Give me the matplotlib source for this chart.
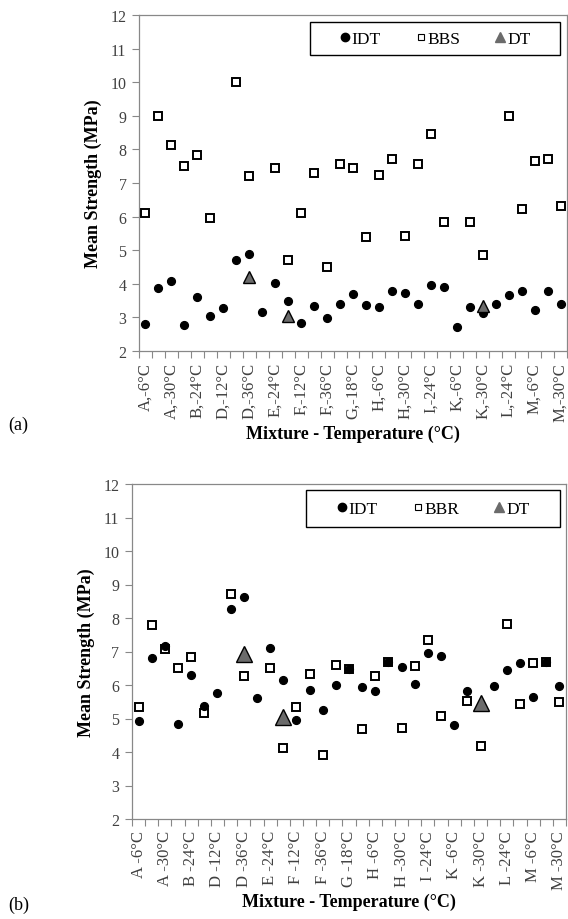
import numpy as np
import matplotlib
matplotlib.use('Agg')
import matplotlib.pyplot as plt
from matplotlib.lines import Line2D
from matplotlib.patches import Rectangle

plt.rcParams['font.family'] = ['Liberation Serif', 'DejaVu Serif']

# categorias (33 combinações mistura-temperatura, rotulada uma sim outra não)
mist = ['A', 'A', 'A', 'B', 'B', 'B', 'D', 'D', 'D', 'E', 'E', 'E', 'F', 'F', 'F',
        'G', 'G', 'G', 'H', 'H', 'H', 'I', 'I', 'I', 'K', 'K', 'K', 'L', 'L', 'L',
        'M', 'M', 'M']
temp = [-6, -18, -30, -12, -24, -36, -12, -24, -36, -12, -24, -36, -12, -24, -36,
        -6, -18, -30, -6, -18, -30, -12, -24, -36, -6, -18, -30, -12, -24, -36,
        -6, -18, -30]

nan = np.nan
# (a)
idt_a = [2.79, 3.87, 4.08, 2.76, 3.60, 3.05, 3.27, 4.70, 4.89, 3.17, 4.02, 3.50, 2.82,
         3.33, 2.98, 3.41, 3.70, 3.37, 3.31, 3.79, 3.74, 3.41, 3.95, 3.89, 2.72, 3.31,
         3.12, 3.41, 3.68, 3.79, 3.21, 3.79, 3.41]
bbs_a = [6.12, 9.00, 8.14, 7.50, 7.84, 5.96, nan, 10.0, 7.20, nan, 7.45, 4.72, 6.12,
         7.29, 4.49, 7.58, 7.45, 5.40, 7.23, 7.71, 5.43, 7.58, 8.47, 5.83, nan, 5.85,
         4.85, nan, 8.98, 6.22, 7.65, 7.71, 6.32]
dt_a_pos = [8, 11, 26]
dt_a = [4.21, 3.04, 3.34]

# (b)
idt_b = [4.93, 6.81, 7.15, 4.84, 6.31, 5.36, 5.75, 8.28, 8.62, 5.62, 7.11, 6.14, 4.97,
         5.86, 5.26, 6.01, 6.47, 5.95, 5.82, 6.70, 6.53, 6.02, 6.97, 6.87, 4.80, 5.82,
         nan, 5.98, 6.44, 6.67, 5.65, 6.70, 5.98]
bbr_b = [5.33, 7.80, 7.07, 6.51, 6.84, 5.16, nan, 8.71, 6.28, nan, 6.51, 4.12, 5.33,
         6.34, 3.92, 6.60, 6.47, 4.70, 6.28, 6.70, 4.73, 6.57, 7.33, 5.07, nan, 5.52,
         4.18, nan, 7.82, 5.42, 6.67, 6.70, 5.49]
dt_b_pos = [8, 11, 26]
dt_b = [6.93, 5.04, 5.46]

W, H = 568, 920
fig = plt.figure(figsize=(W / 100, H / 100), dpi=100)


def painel(rect, idt, bb, bbnome, dtpos, dt, sep, dtsize, caixa):
    ax = fig.add_axes(rect)
    x = np.arange(len(mist))
    ax.plot(x, bb, ls='none', marker='s', ms=5.2, mfc='white', mec='black', mew=1.4,
            zorder=3)
    ax.plot(x, idt, ls='none', marker='o', ms=5.6, mfc='black', mec='black', zorder=4)
    ax.plot(dtpos, dt, ls='none', marker='^', ms=dtsize, mfc='#6b6b6b', mec='black',
            mew=1.0, zorder=5)
    ax.set_xlim(-0.5, len(mist) - 0.5)
    ax.set_ylim(2, 12)
    ax.set_yticks(range(2, 13))
    ax.set_xticks(np.arange(-0.5, len(mist), 1))
    ax.set_xticklabels([])
    ax.set_xticks(range(0, len(mist), 2), minor=True)
    ax.set_xticklabels(['%s%s%d°C' % (mist[i], sep, temp[i]) for i in range(0, len(mist), 2)],
                       minor=True, rotation=90, fontsize=12, color='#404040')
    ax.tick_params(axis='x', which='major', length=5, color='#888888', direction='out')
    ax.tick_params(axis='x', which='minor', length=0, pad=8)
    ax.tick_params(axis='y', length=5, color='#888888', labelsize=11.5,
                   labelcolor='#404040', pad=4)
    for s in ax.spines.values():
        s.set_color('#888888')
        s.set_linewidth(0.9)
    ax.set_ylabel('Mean Strength (MPa)', fontsize=13, fontweight='bold', labelpad=6)
    ax.set_xlabel('Mixture - Temperature (°C)', fontsize=13, fontweight='bold', labelpad=3)

    # caixa da legenda (em pixels da figura)
    x0, y0, x1, y1 = caixa
    fig.add_artist(Rectangle((x0 / W, 1 - y1 / H), (x1 - x0) / W, (y1 - y0) / H,
                             transform=fig.transFigure, fill=False, ec='black', lw=1.0))
    hs = [Line2D([], [], ls='none', marker='o', ms=6, mfc='black', mec='black'),
          Line2D([], [], ls='none', marker='s', ms=4.2, mfc='white', mec='black', mew=0.8),
          Line2D([], [], ls='none', marker='^', ms=6.5, mfc='#6b6b6b', mec='#6b6b6b')]
    ax.legend(hs, ['IDT', bbnome, 'DT'], loc='center', ncol=3, fontsize=12.5,
              frameon=False, handlelength=0.6, handletextpad=0.1, columnspacing=2.0,
              borderpad=0, bbox_to_anchor=((x0 + x1) / 2 / W, 1 - (y0 + y1) / 2 / H),
              bbox_transform=fig.transFigure)
    return ax


painel([139 / W, 1 - 352 / H, 428 / W, 336 / H], idt_a, bbs_a, 'BBS', dt_a_pos, dt_a, ',', 9,
       (310, 23, 560, 56))
painel([132 / W, 1 - 820 / H, 434 / W, 335 / H], idt_b, bbr_b, 'BBR', dt_b_pos, dt_b, ' ', 12,
       (306, 491, 560, 528))

fig.text(8 / W, 1 - 425 / H, '(a)', fontsize=13, va='center', ha='left')
fig.text(8 / W, 1 - 905 / H, '(b)', fontsize=13, va='center', ha='left')

plt.savefig('out.png', dpi=100)
